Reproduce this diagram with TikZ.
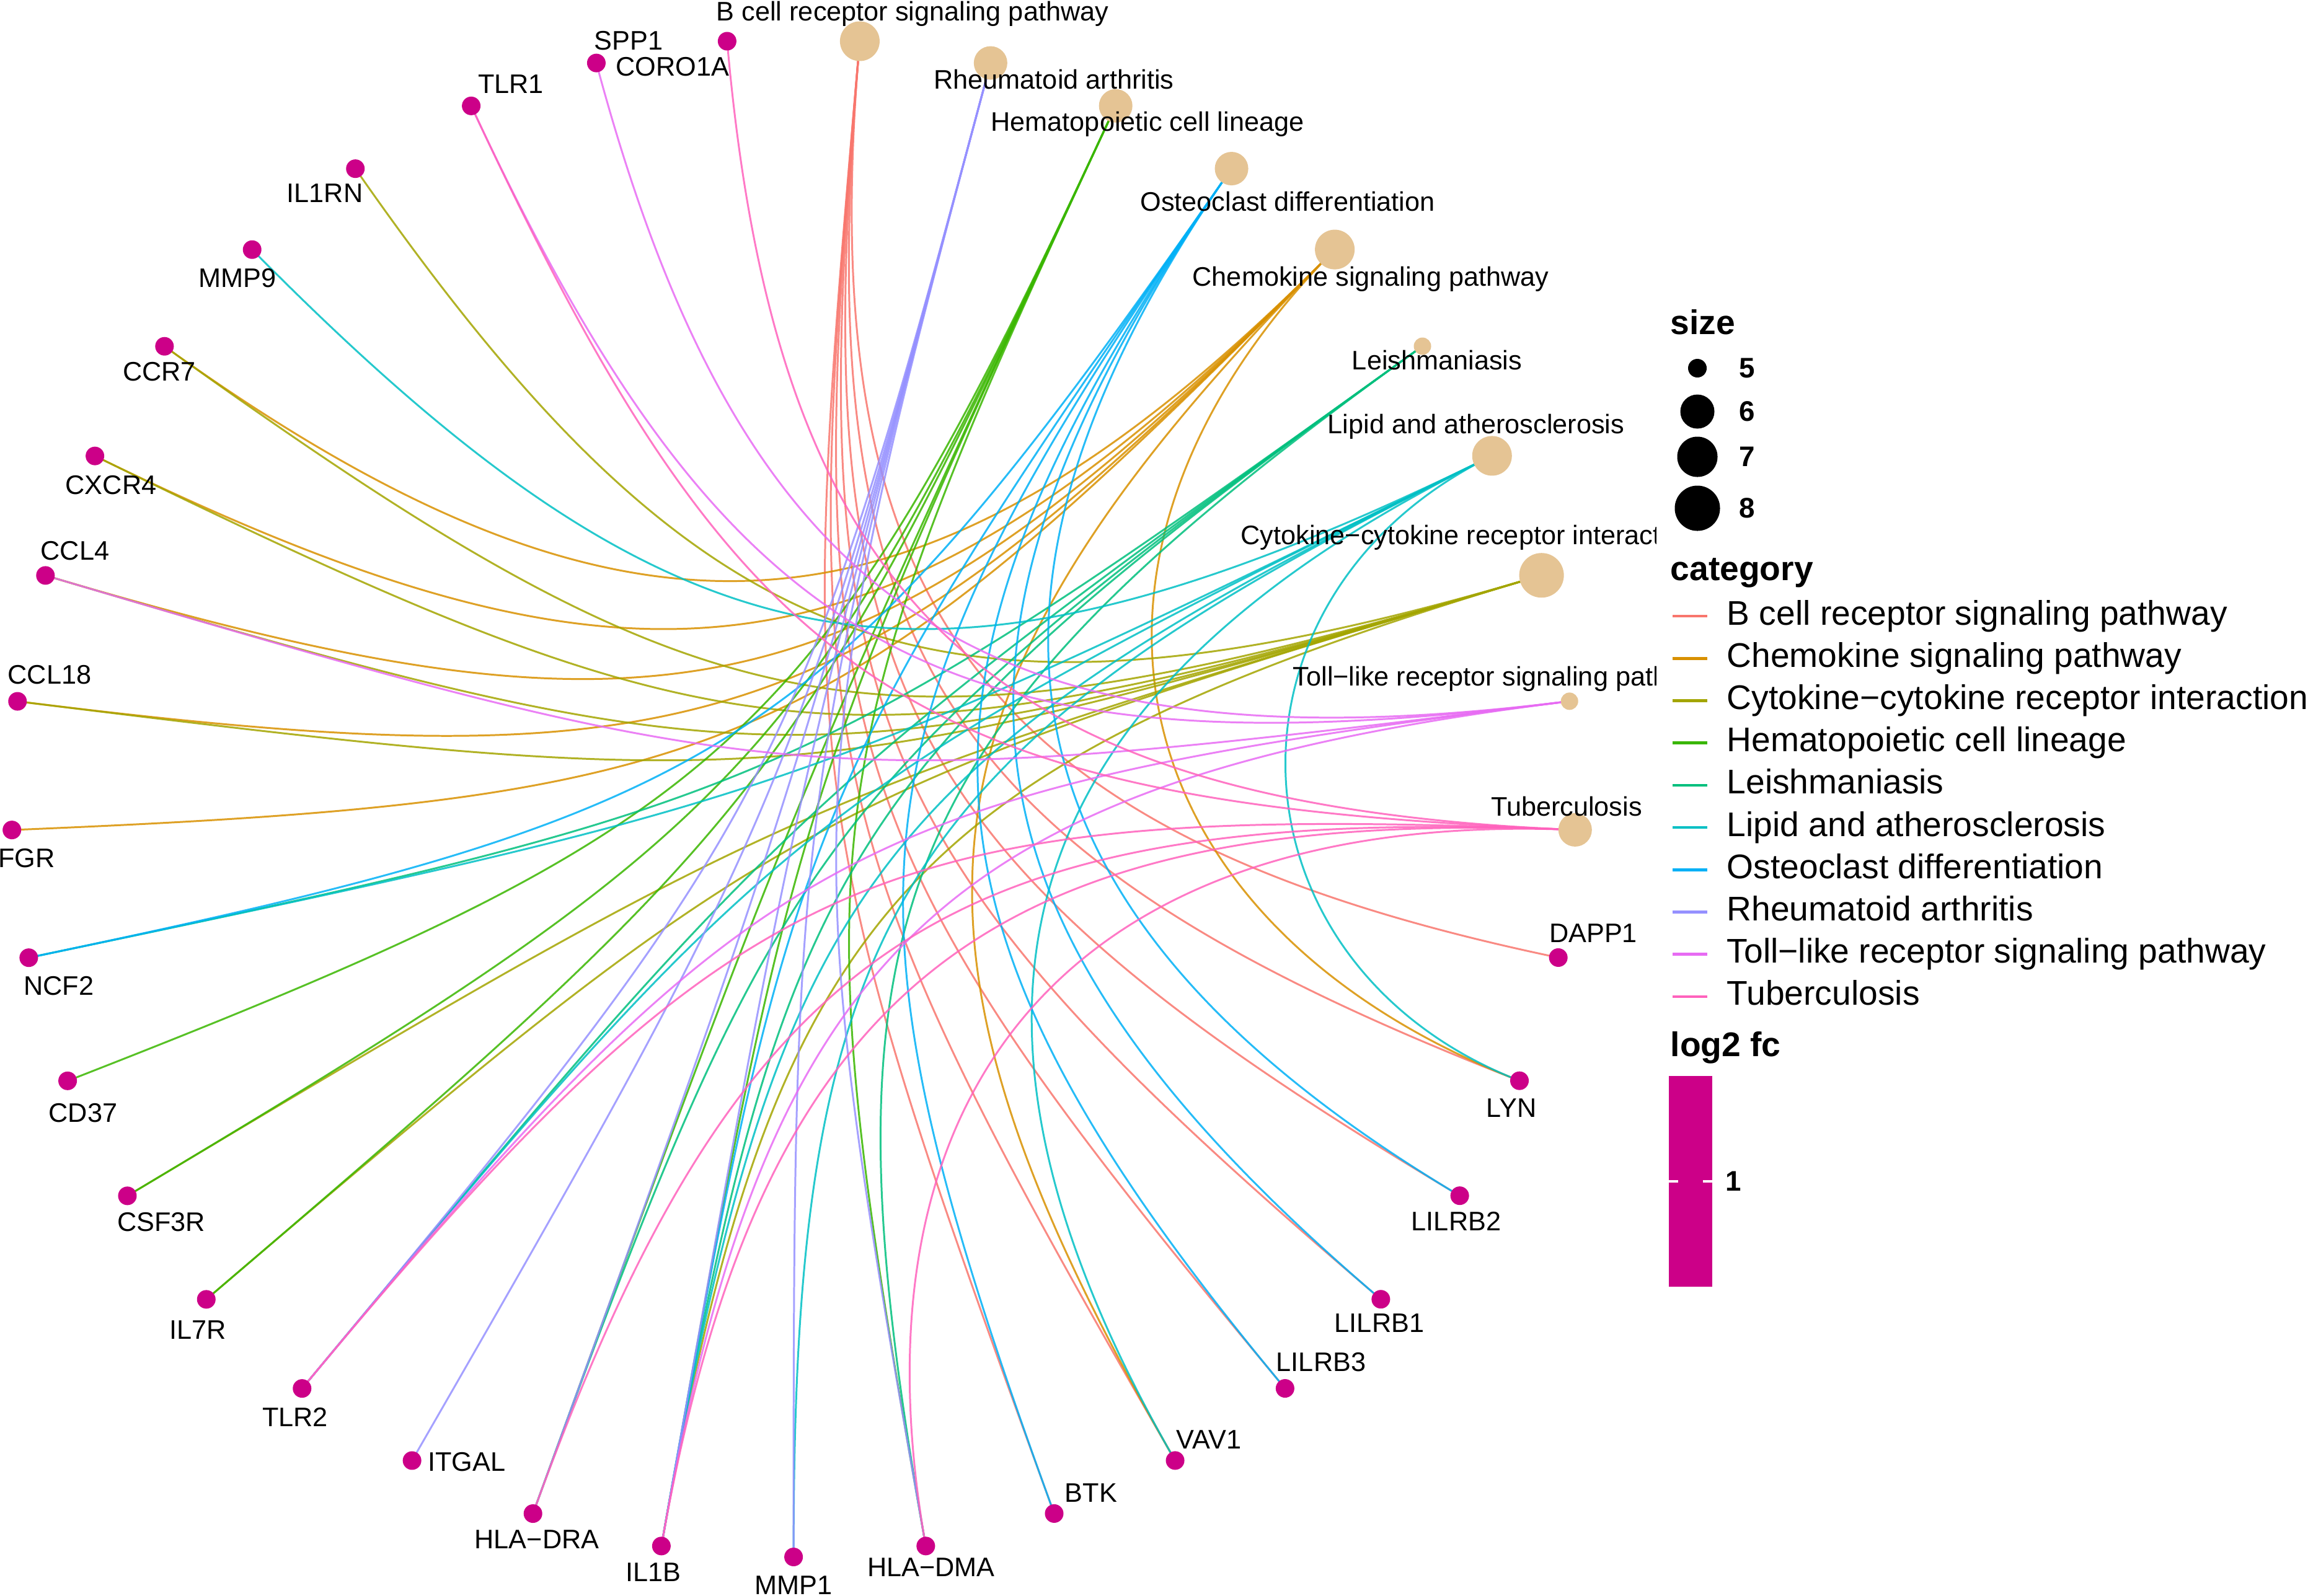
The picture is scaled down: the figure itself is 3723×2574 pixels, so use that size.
\documentclass[tikz,border=0pt]{standalone}
\usepackage{fontspec}
\setmainfont{Liberation Sans}
\usetikzlibrary{calc,backgrounds}
\definecolor{cBCR}{HTML}{F8766D}
\definecolor{cCHE}{HTML}{D89000}
\definecolor{cCYT}{HTML}{A3A500}
\definecolor{cHCL}{HTML}{39B600}
\definecolor{cLEI}{HTML}{00BF7D}
\definecolor{cLIP}{HTML}{00BFC4}
\definecolor{cOST}{HTML}{00B0F6}
\definecolor{cRA}{HTML}{9590FF}
\definecolor{cTOL}{HTML}{E76BF3}
\definecolor{cTB}{HTML}{FF62BC}
\definecolor{geneC}{HTML}{CC0088}
\definecolor{pathC}{HTML}{E5C494}
\newcommand\place[3]{%
  \pgfmathsetmacro\nang{85.14-#2*360/37}%
  \node[#3] (#1) at ({1280+1262*cos(\nang)},{1287-1225*sin(\nang)}) {};%
  \expandafter\xdef\csname ix#1\endcsname{#2}}
\newcommand\edg[3]{%
  \pgfmathtruncatemacro\edd{abs(\csname ix#2\endcsname-\csname ix#3\endcsname)}%
  \pgfmathsetmacro\ebt{1-sin(min(\edd,37-\edd)*180/37)}%
  \draw[ln,#1] (#2.center) .. controls ($(ctr)!\ebt!(#2.center)$) and ($(ctr)!\ebt!(#3.center)$) .. (#3.center);}
\begin{document}
\begin{tikzpicture}[x=0.01cm,y=-0.01cm,
  genedot/.style={circle,fill=geneC,draw=none,inner sep=0pt,minimum size=0.30cm},
  pathdot/.style={circle,fill=pathC,draw=none,inner sep=0pt,minimum size=#1},
  ln/.style={line width=0.85pt,draw opacity=0.85},
  lab/.style={font=\fontsize{12.3}{14}\selectfont,inner sep=0pt,anchor=base},
  labw/.style={lab,anchor=base west},
  legtitle/.style={font=\fontsize{15.7}{18}\selectfont\bfseries,inner sep=0pt,anchor=base west},
  legtxt/.style={font=\fontsize{15.7}{18}\selectfont,inner sep=0pt,anchor=base west},
  legnum/.style={font=\fontsize{13}{15}\selectfont\bfseries,inner sep=0pt},
  legdot/.style={circle,fill=black,draw=none,inner sep=0pt,minimum size=#1},
  keyline/.style={line width=1.3pt}]
\useasboundingbox (0,0) rectangle (3723,2574);
\coordinate (ctr) at (1280,1287);
% pathway nodes
\place{bcr}{0}{pathdot=0.64cm}
\place{ra}{1}{pathdot=0.54cm}
\place{hcl}{2}{pathdot=0.54cm}
\place{osteo}{3}{pathdot=0.54cm}
\place{chemo}{4}{pathdot=0.64cm}
\place{leish}{5}{pathdot=0.28cm}
\place{lipid}{6}{pathdot=0.64cm}
\place{cyto}{7}{pathdot=0.72cm}
\place{toll}{8}{pathdot=0.28cm}
\place{tb}{9}{pathdot=0.54cm}
% gene nodes
\place{dapp1}{10}{genedot}
\place{lyn}{11}{genedot}
\place{lilrb2}{12}{genedot}
\place{lilrb1}{13}{genedot}
\place{lilrb3}{14}{genedot}
\place{vav1}{15}{genedot}
\place{btk}{16}{genedot}
\place{hladma}{17}{genedot}
\place{mmp1}{18}{genedot}
\place{il1b}{19}{genedot}
\place{hladra}{20}{genedot}
\place{itgal}{21}{genedot}
\place{tlr2}{22}{genedot}
\place{il7r}{23}{genedot}
\place{csf3r}{24}{genedot}
\place{cd37}{25}{genedot}
\place{ncf2}{26}{genedot}
\place{fgr}{27}{genedot}
\place{ccl18}{28}{genedot}
\place{ccl4}{29}{genedot}
\place{cxcr4}{30}{genedot}
\place{ccr7}{31}{genedot}
\place{mmp9}{32}{genedot}
\place{il1rn}{33}{genedot}
\place{tlr1}{34}{genedot}
\place{spp1}{35}{genedot}
\place{coro1a}{36}{genedot}
% edges
\begin{pgfonlayer}{background}
\foreach \g in {btk,vav1,lilrb3,lilrb1,lilrb2,lyn,dapp1} {\edg{cBCR}{bcr}{\g}}
\foreach \g in {ccr7,cxcr4,ccl4,ccl18,fgr,vav1,lyn} {\edg{cCHE}{chemo}{\g}}
\foreach \g in {il1rn,ccr7,cxcr4,ccl4,ccl18,csf3r,il7r,il1b} {\edg{cCYT}{cyto}{\g}}
\foreach \g in {cd37,csf3r,il7r,hladra,il1b,hladma} {\edg{cHCL}{hcl}{\g}}
\foreach \g in {ncf2,tlr2,hladra,hladma,il1b} {\edg{cLEI}{leish}{\g}}
\foreach \g in {mmp9,mmp1,il1b,tlr2,ncf2,lyn,vav1} {\edg{cLIP}{lipid}{\g}}
\foreach \g in {btk,lilrb1,lilrb2,lilrb3,ncf2,il1b} {\edg{cOST}{osteo}{\g}}
\foreach \g in {itgal,hladra,hladma,il1b,mmp1,tlr2} {\edg{cRA}{ra}{\g}}
\foreach \g in {tlr1,tlr2,spp1,il1b,ccl4} {\edg{cTOL}{toll}{\g}}
\foreach \g in {tlr1,tlr2,coro1a,hladra,hladma,il1b} {\edg{cTB}{tb}{\g}}
\end{pgfonlayer}
% pathway labels
\node[lab] (bcr-l) at (1472,33) {B cell receptor signaling pathway};
\node[lab] (ra-l) at (1700,143) {Rheumatoid arthritis};
\node[lab] (hcl-l) at (1851,211) {Hematopoietic cell lineage};
\node[lab] (osteo-l) at (2077,340) {Osteoclast differentiation};
\node[lab] (chemo-l) at (2211,461) {Chemokine signaling pathway};
\node[lab] (leish-l) at (2318,596) {Leishmaniasis};
\node[lab] (lipid-l) at (2381,699) {Lipid and atherosclerosis};
\node[lab] (tb-l) at (2527,1316) {Tuberculosis};
\begin{scope}
\clip (0,0) rectangle (2671,2574);
\node[labw] (cyto-l) at (2001,878) {Cytokine−cytokine receptor interaction};
\node[labw] (toll-l) at (2085,1106) {Toll−like receptor signaling pathway};
\end{scope}
% gene labels
\node[lab] (dapp1-l) at (2570,1520) {DAPP1};
\node[lab] (lyn-l) at (2438,1802) {LYN};
\node[lab] (lilrb2-l) at (2349,1985) {LILRB2};
\node[lab] (lilrb1-l) at (2225,2149) {LILRB1};
\node[lab] (lilrb3-l) at (2131,2212) {LILRB3};
\node[lab] (vav1-l) at (1950,2337) {VAV1};
\node[lab] (btk-l) at (1760,2423) {BTK};
\node[lab] (hladma-l) at (1502,2543) {HLA−DMA};
\node[lab] (mmp1-l) at (1280,2572) {MMP1};
\node[lab] (il1b-l) at (1054,2551) {IL1B};
\node[lab] (hladra-l) at (866,2498) {HLA−DRA};
\node[lab] (itgal-l) at (753,2373) {ITGAL};
\node[lab] (tlr2-l) at (476,2301) {TLR2};
\node[lab] (il7r-l) at (319,2160) {IL7R};
\node[lab] (csf3r-l) at (260,1986) {CSF3R};
\node[lab] (cd37-l) at (134,1810) {CD37};
\node[lab] (ncf2-l) at (95,1605) {NCF2};
\node[lab] (fgr-l) at (43,1399) {FGR};
\node[lab] (ccl18-l) at (80,1103) {CCL18};
\node[lab] (ccl4-l) at (121,903) {CCL4};
\node[lab] (cxcr4-l) at (179,797) {CXCR4};
\node[lab] (ccr7-l) at (257,614) {CCR7};
\node[lab] (mmp9-l) at (383,463) {MMP9};
\node[lab] (il1rn-l) at (524,326) {IL1RN};
\node[lab] (tlr1-l) at (824,150) {TLR1};
\node[lab] (spp1-l) at (1014,80) {SPP1};
\node[lab] (coro1a-l) at (1085,122) {CORO1A};
% legend: size
\node[legtitle] (sizeT) at (2694,539) {size};
\node[legdot=0.30cm] (s5) at (2738,594) {};
\node[legdot=0.55cm] (s6) at (2738,664) {};
\node[legdot=0.65cm] (s7) at (2738,737) {};
\node[legdot=0.73cm] (s8) at (2738,820) {};
\node[legnum] (s5l) at (2818,594) {5};
\node[legnum] (s6l) at (2818,664) {6};
\node[legnum] (s7l) at (2818,737) {7};
\node[legnum] (s8l) at (2818,820) {8};
% legend: category
\node[legtitle] (catT) at (2694,936) {category};
\foreach \c/\t [count=\k from 0] in {cBCR/B cell receptor signaling pathway,cCHE/Chemokine signaling pathway,cCYT/Cytokine−cytokine receptor interaction,cHCL/Hematopoietic cell lineage,cLEI/Leishmaniasis,cLIP/Lipid and atherosclerosis,cOST/Osteoclast differentiation,cRA/Rheumatoid arthritis,cTOL/Toll−like receptor signaling pathway,cTB/Tuberculosis} {
  \coordinate (k\k a) at (2698,994+68.2*\k);
  \coordinate (k\k b) at (2754,994+68.2*\k);
  \draw[keyline,\c] (k\k a) -- (k\k b);
  \node[legtxt] (k\k t) at (2785,1008+68.2*\k) {\t};
}
% legend: log2 fc
\node[legtitle] (fcT) at (2694,1704) {log2 fc};
\fill[geneC] (2692,1736) rectangle (2762,2076);
\draw[white,line width=1pt] (2692,1906) -- (2707,1906) (2747,1906) -- (2762,1906);
\node[legnum] (fc1) at (2796,1906) {1};
\end{tikzpicture}
\end{document}
